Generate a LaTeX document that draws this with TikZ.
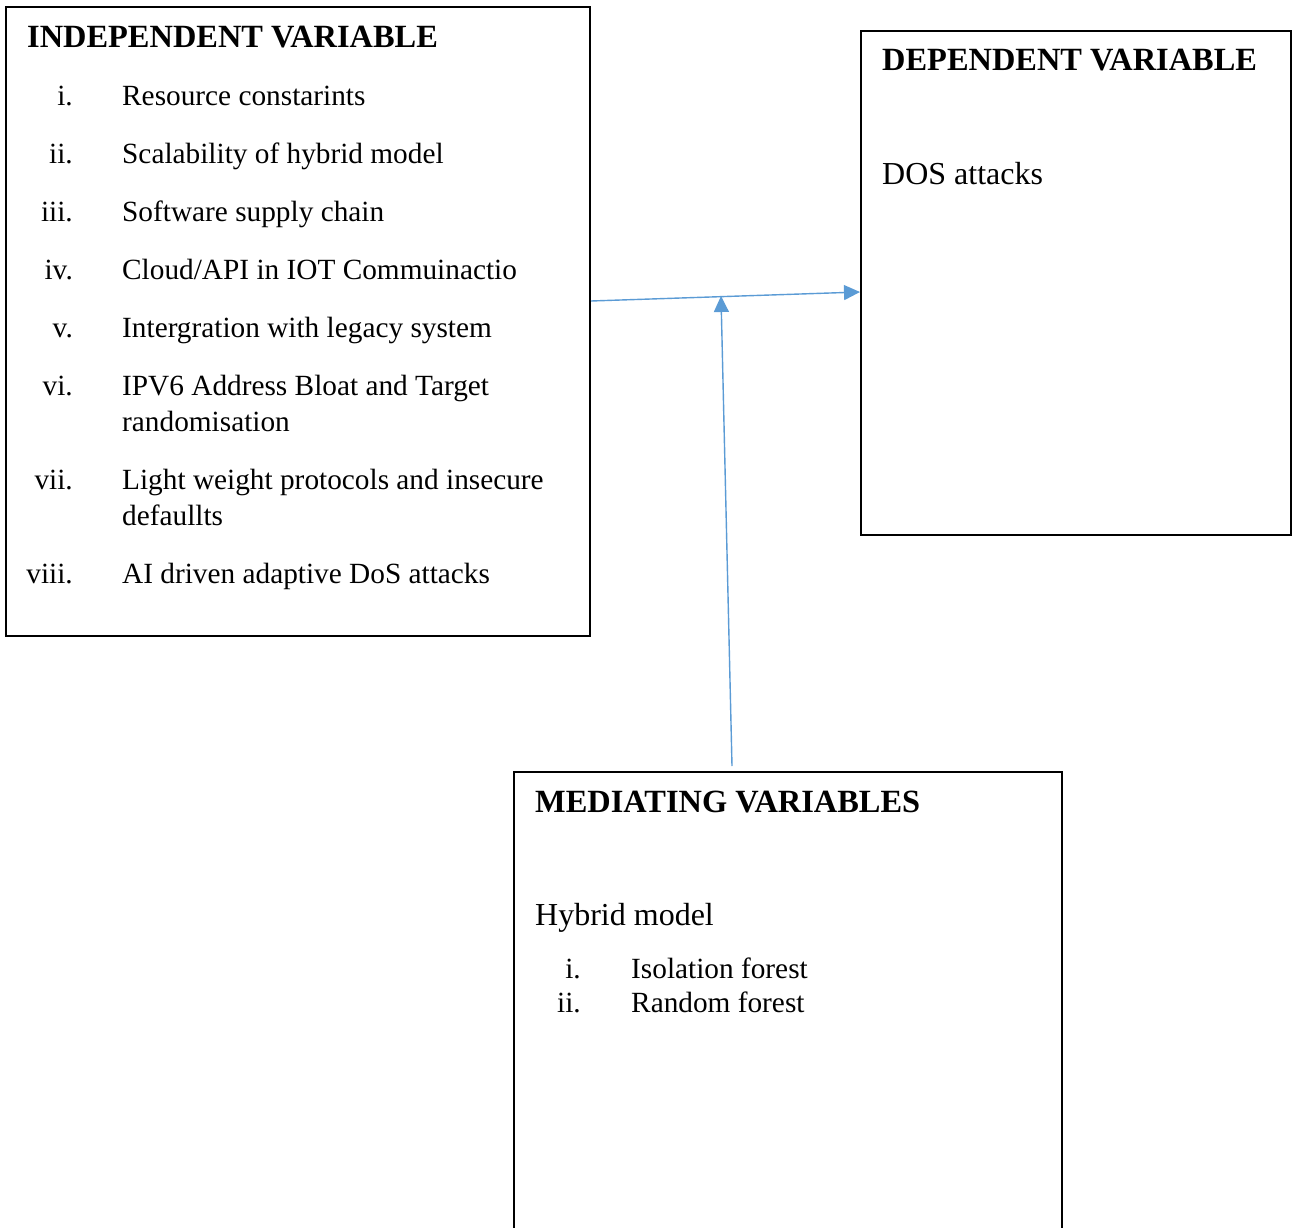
\documentclass[tikz,border=0pt]{standalone}
\usepackage{fontspec}
\setmainfont{Liberation Serif}
\usetikzlibrary{arrows.meta}
\definecolor{linkblue}{RGB}{91,155,213}
\begin{document}
\begin{tikzpicture}[x=1pt,y=-1pt,
  frame/.style={draw=black,line width=1.8pt},
  txt/.style={anchor=base west,inner sep=0pt,font=\fontsize{29.3}{36}\selectfont},
  big/.style={anchor=base west,inner sep=0pt,font=\fontsize{32}{38}\selectfont},
  head/.style={anchor=base west,inner sep=0pt,font=\fontsize{32.4}{38}\selectfont\bfseries},
  num/.style={anchor=base east,inner sep=0pt,font=\fontsize{29.3}{36}\selectfont},
  link/.style={draw=linkblue,line width=1.4pt,-{Triangle[length=16pt,width=15pt]}}]
\useasboundingbox (0,0) rectangle (1293,1228);

% boxes
\draw[frame] (6,7) rectangle (590,636);
\draw[frame] (861,31) rectangle (1291,535);
\draw[frame] (514,1230) -- (514,772) -- (1062,772) -- (1062,1230);

% independent variable box
\node[head] (ivh) at (27,48) {INDEPENDENT VARIABLE};
\node[num] (n1) at (73,106) {i.};     \node[txt] (t1) at (122,106) {Resource constarints};
\node[num] (n2) at (73,164) {ii.};    \node[txt] (t2) at (122,164) {Scalability of hybrid model};
\node[num] (n3) at (73,221) {iii.};   \node[txt] (t3) at (122,221) {Software supply chain};
\node[num] (n4) at (73,279) {iv.};    \node[txt] (t4) at (122,279) {Cloud/API in IOT Commuinactio};
\node[num] (n5) at (73,337) {v.};     \node[txt] (t5) at (122,337) {Intergration with legacy system};
\node[num] (n6) at (73,395) {vi.};    \node[txt] (t6) at (122,395) {IPV6 Address Bloat and Target};
                                      \node[txt] (t6b) at (122,431) {randomisation};
\node[num] (n7) at (73,489) {vii.};   \node[txt] (t7) at (122,489) {Light weight protocols and insecure};
                                      \node[txt] (t7b) at (122,525) {defaullts};
\node[num] (n8) at (73,583) {viii.};  \node[txt] (t8) at (122,583) {AI driven adaptive DoS attacks};

% dependent variable box
\node[head] (dvh) at (882,71) {DEPENDENT VARIABLE};
\node[big] (dv1) at (882,184) {DOS attacks};

% mediating variables box
\node[head] (mvh) at (535,812) {MEDIATING VARIABLES};
\node[big] (mv1) at (535,925) {Hybrid model};
\node[num] (m1) at (581,978) {i.};    \node[txt] (mt1) at (631,978) {Isolation forest};
\node[num] (m2) at (581,1012) {ii.};  \node[txt] (mt2) at (631,1012) {Random forest};

% connectors
\coordinate (ivout) at (591,301);
\coordinate (dvin) at (860,292);
\coordinate (mvout) at (732,766);
\coordinate (join) at (721,296);
\draw[link] (ivout) -- (dvin);
\draw[link] (mvout) -- (join);
\end{tikzpicture}
\end{document}
